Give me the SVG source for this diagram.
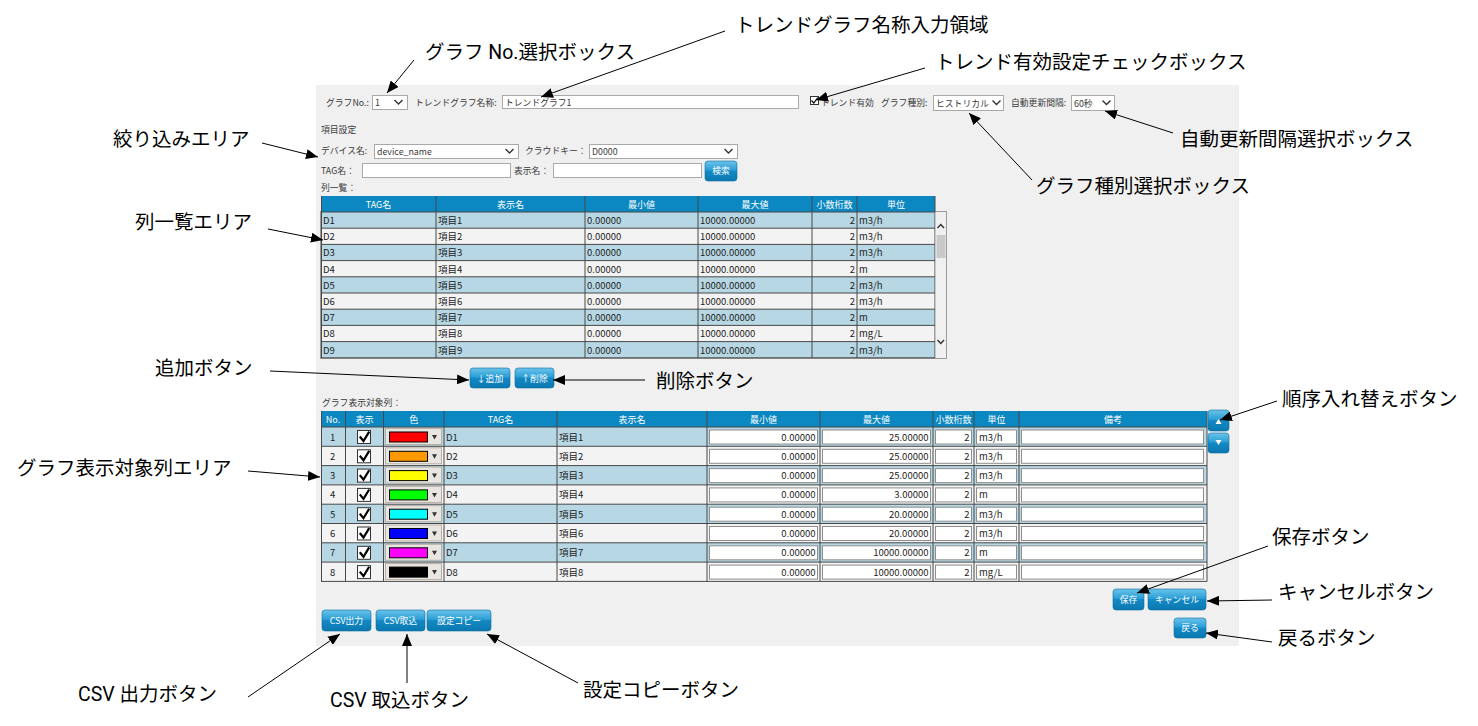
<svg xmlns="http://www.w3.org/2000/svg" xmlns:xlink="http://www.w3.org/1999/xlink" width="1478" height="726" viewBox="0 0 1478 726">
<style>
.ui{font-family:'Noto Sans CJK JP','Liberation Sans',sans-serif;font-size:8.8px;fill:#3a3a3a}
.cell{font-family:'Noto Sans CJK JP','Liberation Sans',sans-serif;font-size:9.5px;fill:#222}
.hd{font-family:'Noto Sans CJK JP','Liberation Sans',sans-serif;font-size:9px;fill:#fff;text-anchor:middle}
.bt{font-family:'Noto Sans CJK JP','Liberation Sans',sans-serif;font-size:8.8px;fill:#fff;text-anchor:middle}
.r{text-anchor:end}
.ann{font-family:Roboto,'Noto Sans CJK JP',sans-serif;font-size:19.5px;font-weight:400;fill:#000}
.box{fill:#fff;stroke:#a9a9a9;stroke-width:1}
.in{fill:#fff;stroke:#8e8e8e;stroke-width:1}
.chev{fill:none;stroke:#333;stroke-width:1.4}
.btn{fill:url(#gb);stroke:#0b6fa0;stroke-width:0.6}
.grid{stroke:#484848;stroke-width:1}
.blue{fill:#b6d7e3}
.wht{fill:#f3f3f3}
.con line{stroke:#000;stroke-width:1;marker-end:url(#ah)}
</style>
<defs>
<linearGradient id="gb" x1="0" y1="0" x2="0" y2="1">
<stop offset="0" stop-color="#6cc3ea"/>
<stop offset="0.45" stop-color="#2a9ed5"/>
<stop offset="0.5" stop-color="#1489c4"/>
<stop offset="1" stop-color="#0a78b0"/>
</linearGradient>
<marker id="ah" viewBox="0 0 12 10" refX="12" refY="5" markerWidth="12" markerHeight="10" markerUnits="userSpaceOnUse" orient="auto">
<path d="M0,0 L12,5 L0,10 z" fill="#000"/>
</marker>
<g id="t2">
<rect x="357.5" y="3.5" width="13" height="13" fill="#fff" stroke="#333"/>
<path d="M359.8 9.5 L363.5 14 L369.2 4.6" fill="none" stroke="#000" stroke-width="2.2"/>
<rect x="385.5" y="1.5" width="56" height="16" fill="#e9e5e1" stroke="#b7afa7"/>
<path d="M432 8 L437 8 L434.5 12.5 z" fill="#333"/>
<rect class="in" x="709.5" y="3" width="108" height="14"/>
<rect class="in" x="822.5" y="3" width="108" height="14"/>
<rect class="in" x="935.5" y="3" width="36" height="14"/>
<rect class="in" x="976.5" y="3" width="40" height="14"/>
<rect class="in" x="1021.5" y="3" width="182" height="14"/>
</g>
</defs>

<rect width="1478" height="726" fill="#fff"/>

<g id="screen">
<rect x="316" y="85" width="923" height="561" fill="#f0f0f0"/>

<g id="topbar">
<text class="ui" x="326" y="105.5">グラフNo.:</text>
<rect class="box" x="372.5" y="95.5" width="35" height="14"/>
<text class="ui" x="375" y="106">1</text>
<polyline class="chev" points="394.5,100 398.5,104 402.5,100"/>
<text class="ui" x="415" y="105.5">トレンドグラフ名称:</text>
<rect class="box" x="502.5" y="95.5" width="296" height="13"/>
<text class="ui" x="505" y="105.5">トレンドグラフ1</text>
<rect x="810.5" y="96.5" width="8" height="8" fill="#fff" stroke="#333"/>
<path d="M811.5 100.5 L813.8 103 L817.8 97.5" fill="none" stroke="#000" stroke-width="1.2"/>
<text class="ui" x="821" y="105.5">トレンド有効</text>
<text class="ui" x="881" y="105.5">グラフ種別:</text>
<rect class="box" x="933.5" y="95.5" width="70" height="15"/>
<text class="ui" x="936" y="106.5">ヒストリカル</text>
<polyline class="chev" points="992.5,100.5 996.5,104.5 1000.5,100.5"/>
<text class="ui" x="1011" y="105.5">自動更新間隔:</text>
<rect class="box" x="1071.5" y="95.5" width="43" height="15"/>
<text class="ui" x="1074" y="106.5">60秒</text>
<polyline class="chev" points="1102.5,100.5 1106.5,104.5 1110.5,100.5"/>
</g>

<g id="filter">
<text class="ui" x="321" y="133">項目設定</text>
<text class="ui" x="321" y="154">デバイス名:</text>
<rect class="box" x="374.5" y="144.5" width="144" height="14"/>
<text class="ui" x="377" y="155">device_name</text>
<polyline class="chev" points="505.5,149 509.5,153 513.5,149"/>
<text class="ui" x="525" y="154">クラウドキー：</text>
<rect class="box" x="589.5" y="144.5" width="148" height="14"/>
<text class="ui" x="592" y="155">D0000</text>
<polyline class="chev" points="724.5,149 728.5,153 732.5,149"/>
<text class="ui" x="321" y="174">TAG名：</text>
<rect class="box" x="362.5" y="163.5" width="148" height="14"/>
<text class="ui" x="514" y="174">表示名：</text>
<rect class="box" x="553.5" y="163.5" width="148" height="14"/>
<rect class="btn" x="705" y="161" width="32" height="20" rx="3"/>
<text class="bt" x="721" y="174">検索</text>
<text class="ui" x="321" y="191">列一覧：</text>
</g>

<g id="columnList">
<rect x="320.5" y="211.5" width="626" height="147" fill="#f3f3f3" stroke="#9a9a9a"/>
<rect x="321" y="196" width="614" height="16" fill="#0b87c1"/>
<text class="hd" x="378.5" y="207.5">TAG名</text>
<text class="hd" x="510.5" y="207.5">表示名</text>
<text class="hd" x="641.5" y="207.5">最小値</text>
<text class="hd" x="755" y="207.5">最大値</text>
<text class="hd" x="834.5" y="207.5">小数桁数</text>
<text class="hd" x="896" y="207.5">単位</text>
<g transform="translate(0,212)"><rect class="blue" x="321" y="0" width="614" height="16.2"/><text class="cell" x="323" y="12">D1</text><text class="cell" x="438" y="12">項目1</text><text class="cell" x="587" y="12">0.00000</text><text class="cell" x="700" y="12">10000.00000</text><text class="cell r" x="855" y="12">2</text><text class="cell" x="859" y="12">m3/h</text></g>
<g transform="translate(0,228.2)"><rect class="wht" x="321" y="0" width="614" height="16.2"/><text class="cell" x="323" y="12">D2</text><text class="cell" x="438" y="12">項目2</text><text class="cell" x="587" y="12">0.00000</text><text class="cell" x="700" y="12">10000.00000</text><text class="cell r" x="855" y="12">2</text><text class="cell" x="859" y="12">m3/h</text></g>
<g transform="translate(0,244.4)"><rect class="blue" x="321" y="0" width="614" height="16.2"/><text class="cell" x="323" y="12">D3</text><text class="cell" x="438" y="12">項目3</text><text class="cell" x="587" y="12">0.00000</text><text class="cell" x="700" y="12">10000.00000</text><text class="cell r" x="855" y="12">2</text><text class="cell" x="859" y="12">m3/h</text></g>
<g transform="translate(0,260.6)"><rect class="wht" x="321" y="0" width="614" height="16.2"/><text class="cell" x="323" y="12">D4</text><text class="cell" x="438" y="12">項目4</text><text class="cell" x="587" y="12">0.00000</text><text class="cell" x="700" y="12">10000.00000</text><text class="cell r" x="855" y="12">2</text><text class="cell" x="859" y="12">m</text></g>
<g transform="translate(0,276.8)"><rect class="blue" x="321" y="0" width="614" height="16.2"/><text class="cell" x="323" y="12">D5</text><text class="cell" x="438" y="12">項目5</text><text class="cell" x="587" y="12">0.00000</text><text class="cell" x="700" y="12">10000.00000</text><text class="cell r" x="855" y="12">2</text><text class="cell" x="859" y="12">m3/h</text></g>
<g transform="translate(0,293)"><rect class="wht" x="321" y="0" width="614" height="16.2"/><text class="cell" x="323" y="12">D6</text><text class="cell" x="438" y="12">項目6</text><text class="cell" x="587" y="12">0.00000</text><text class="cell" x="700" y="12">10000.00000</text><text class="cell r" x="855" y="12">2</text><text class="cell" x="859" y="12">m3/h</text></g>
<g transform="translate(0,309.2)"><rect class="blue" x="321" y="0" width="614" height="16.2"/><text class="cell" x="323" y="12">D7</text><text class="cell" x="438" y="12">項目7</text><text class="cell" x="587" y="12">0.00000</text><text class="cell" x="700" y="12">10000.00000</text><text class="cell r" x="855" y="12">2</text><text class="cell" x="859" y="12">m</text></g>
<g transform="translate(0,325.4)"><rect class="wht" x="321" y="0" width="614" height="16.2"/><text class="cell" x="323" y="12">D8</text><text class="cell" x="438" y="12">項目8</text><text class="cell" x="587" y="12">0.00000</text><text class="cell" x="700" y="12">10000.00000</text><text class="cell r" x="855" y="12">2</text><text class="cell" x="859" y="12">mg/L</text></g>
<g transform="translate(0,341.6)"><rect class="blue" x="321" y="0" width="614" height="16.2"/><text class="cell" x="323" y="12">D9</text><text class="cell" x="438" y="12">項目9</text><text class="cell" x="587" y="12">0.00000</text><text class="cell" x="700" y="12">10000.00000</text><text class="cell r" x="855" y="12">2</text><text class="cell" x="859" y="12">m3/h</text></g>
<g class="grid">
<line x1="321" y1="212" x2="935" y2="212"/>
<line x1="321" y1="228.2" x2="935" y2="228.2"/>
<line x1="321" y1="244.4" x2="935" y2="244.4"/>
<line x1="321" y1="260.6" x2="935" y2="260.6"/>
<line x1="321" y1="276.8" x2="935" y2="276.8"/>
<line x1="321" y1="293" x2="935" y2="293"/>
<line x1="321" y1="309.2" x2="935" y2="309.2"/>
<line x1="321" y1="325.4" x2="935" y2="325.4"/>
<line x1="321" y1="341.6" x2="935" y2="341.6"/>
<line x1="321" y1="357.8" x2="935" y2="357.8"/>
<line x1="321.5" y1="196" x2="321.5" y2="358"/>
<line x1="436" y1="196" x2="436" y2="358"/>
<line x1="585" y1="196" x2="585" y2="358"/>
<line x1="698" y1="196" x2="698" y2="358"/>
<line x1="812" y1="196" x2="812" y2="358"/>
<line x1="857" y1="196" x2="857" y2="358"/>
<line x1="935" y1="196" x2="935" y2="358"/>
</g>
<rect x="935.5" y="212" width="10.5" height="146" fill="#f0f0f0"/>
<polyline class="chev" points="937.5,228 940.8,224.5 944,228" stroke-width="1"/>
<rect x="936.5" y="235" width="9" height="23" fill="#c9c9c9"/>
<polyline class="chev" points="937.5,340 940.8,343.5 944,340" stroke-width="1"/>
</g>

<g id="addDel">
<rect class="btn" x="470" y="368" width="40" height="20" rx="3"/>
<text class="bt" x="490" y="381.5">↓追加</text>
<rect class="btn" x="515" y="368" width="39" height="20" rx="3"/>
<text class="bt" x="534.5" y="381.5">↑削除</text>
</g>

<g id="graphList">
<text class="ui" x="322" y="406">グラフ表示対象列：</text>
<rect x="321" y="411" width="886" height="16" fill="#0b87c1"/>
<text class="hd" x="333" y="422.5">No.</text>
<text class="hd" x="364.5" y="422.5">表示</text>
<text class="hd" x="413.7" y="422.5">色</text>
<text class="hd" x="500.5" y="422.5">TAG名</text>
<text class="hd" x="632" y="422.5">表示名</text>
<text class="hd" x="763.5" y="422.5">最小値</text>
<text class="hd" x="876.5" y="422.5">最大値</text>
<text class="hd" x="953.5" y="422.5">小数桁数</text>
<text class="hd" x="996.5" y="422.5">単位</text>
<text class="hd" x="1113" y="422.5">備考</text>

<g transform="translate(0,427)"><rect class="blue" x="321" y="0" width="886" height="19.3"/><use xlink:href="#t2"/><rect x="389.5" y="5" width="38" height="10" fill="#ff0000" stroke="#000"/><text class="cell" x="330" y="13.5">1</text><text class="cell" x="446" y="13.5">D1</text><text class="cell" x="559" y="13.5">項目1</text><text class="cell r" x="815.5" y="13.5">0.00000</text><text class="cell r" x="928.5" y="13.5">25.00000</text><text class="cell r" x="969.5" y="13.5">2</text><text class="cell" x="979" y="13.5">m3/h</text></g>
<g transform="translate(0,446.3)"><rect class="wht" x="321" y="0" width="886" height="19.3"/><use xlink:href="#t2"/><rect x="389.5" y="5" width="38" height="10" fill="#ff9900" stroke="#000"/><text class="cell" x="330" y="13.5">2</text><text class="cell" x="446" y="13.5">D2</text><text class="cell" x="559" y="13.5">項目2</text><text class="cell r" x="815.5" y="13.5">0.00000</text><text class="cell r" x="928.5" y="13.5">25.00000</text><text class="cell r" x="969.5" y="13.5">2</text><text class="cell" x="979" y="13.5">m3/h</text></g>
<g transform="translate(0,465.6)"><rect class="blue" x="321" y="0" width="886" height="19.3"/><use xlink:href="#t2"/><rect x="389.5" y="5" width="38" height="10" fill="#ffff00" stroke="#000"/><text class="cell" x="330" y="13.5">3</text><text class="cell" x="446" y="13.5">D3</text><text class="cell" x="559" y="13.5">項目3</text><text class="cell r" x="815.5" y="13.5">0.00000</text><text class="cell r" x="928.5" y="13.5">25.00000</text><text class="cell r" x="969.5" y="13.5">2</text><text class="cell" x="979" y="13.5">m3/h</text></g>
<g transform="translate(0,484.9)"><rect class="wht" x="321" y="0" width="886" height="19.3"/><use xlink:href="#t2"/><rect x="389.5" y="5" width="38" height="10" fill="#00ff00" stroke="#000"/><text class="cell" x="330" y="13.5">4</text><text class="cell" x="446" y="13.5">D4</text><text class="cell" x="559" y="13.5">項目4</text><text class="cell r" x="815.5" y="13.5">0.00000</text><text class="cell r" x="928.5" y="13.5">3.00000</text><text class="cell r" x="969.5" y="13.5">2</text><text class="cell" x="979" y="13.5">m</text></g>
<g transform="translate(0,504.2)"><rect class="blue" x="321" y="0" width="886" height="19.3"/><use xlink:href="#t2"/><rect x="389.5" y="5" width="38" height="10" fill="#00ffff" stroke="#000"/><text class="cell" x="330" y="13.5">5</text><text class="cell" x="446" y="13.5">D5</text><text class="cell" x="559" y="13.5">項目5</text><text class="cell r" x="815.5" y="13.5">0.00000</text><text class="cell r" x="928.5" y="13.5">20.00000</text><text class="cell r" x="969.5" y="13.5">2</text><text class="cell" x="979" y="13.5">m3/h</text></g>
<g transform="translate(0,523.5)"><rect class="wht" x="321" y="0" width="886" height="19.3"/><use xlink:href="#t2"/><rect x="389.5" y="5" width="38" height="10" fill="#0000ff" stroke="#000"/><text class="cell" x="330" y="13.5">6</text><text class="cell" x="446" y="13.5">D6</text><text class="cell" x="559" y="13.5">項目6</text><text class="cell r" x="815.5" y="13.5">0.00000</text><text class="cell r" x="928.5" y="13.5">20.00000</text><text class="cell r" x="969.5" y="13.5">2</text><text class="cell" x="979" y="13.5">m3/h</text></g>
<g transform="translate(0,542.8)"><rect class="blue" x="321" y="0" width="886" height="19.3"/><use xlink:href="#t2"/><rect x="389.5" y="5" width="38" height="10" fill="#ff00ff" stroke="#000"/><text class="cell" x="330" y="13.5">7</text><text class="cell" x="446" y="13.5">D7</text><text class="cell" x="559" y="13.5">項目7</text><text class="cell r" x="815.5" y="13.5">0.00000</text><text class="cell r" x="928.5" y="13.5">10000.00000</text><text class="cell r" x="969.5" y="13.5">2</text><text class="cell" x="979" y="13.5">m</text></g>
<g transform="translate(0,562.1)"><rect class="wht" x="321" y="0" width="886" height="19.3"/><use xlink:href="#t2"/><rect x="389.5" y="5" width="38" height="10" fill="#000000" stroke="#000"/><text class="cell" x="330" y="13.5">8</text><text class="cell" x="446" y="13.5">D8</text><text class="cell" x="559" y="13.5">項目8</text><text class="cell r" x="815.5" y="13.5">0.00000</text><text class="cell r" x="928.5" y="13.5">10000.00000</text><text class="cell r" x="969.5" y="13.5">2</text><text class="cell" x="979" y="13.5">mg/L</text></g>
<g class="grid">
<line x1="321" y1="427" x2="1207" y2="427"/>
<line x1="321" y1="446.3" x2="1207" y2="446.3"/>
<line x1="321" y1="465.6" x2="1207" y2="465.6"/>
<line x1="321" y1="484.9" x2="1207" y2="484.9"/>
<line x1="321" y1="504.2" x2="1207" y2="504.2"/>
<line x1="321" y1="523.5" x2="1207" y2="523.5"/>
<line x1="321" y1="542.8" x2="1207" y2="542.8"/>
<line x1="321" y1="562.1" x2="1207" y2="562.1"/>
<line x1="321" y1="581.4" x2="1207" y2="581.4"/>
<line x1="321.5" y1="411" x2="321.5" y2="581.4"/>
<line x1="345.5" y1="411" x2="345.5" y2="581.4"/>
<line x1="383.5" y1="411" x2="383.5" y2="581.4"/>
<line x1="444" y1="411" x2="444" y2="581.4"/>
<line x1="557" y1="411" x2="557" y2="581.4"/>
<line x1="707" y1="411" x2="707" y2="581.4"/>
<line x1="820" y1="411" x2="820" y2="581.4"/>
<line x1="933" y1="411" x2="933" y2="581.4"/>
<line x1="974" y1="411" x2="974" y2="581.4"/>
<line x1="1019" y1="411" x2="1019" y2="581.4"/>
<line x1="1207" y1="411" x2="1207" y2="581.4"/>
</g>
</g>

<g id="orderBtns">
<rect class="btn" x="1208" y="410" width="21" height="21" rx="3"/>
<path d="M1215.5 424 L1221.5 424 L1218.5 419 z" fill="#fff"/>
<rect class="btn" x="1208" y="433" width="21" height="20" rx="3"/>
<path d="M1215.5 440 L1221.5 440 L1218.5 445 z" fill="#fff"/>
</g>

<g id="bottomBtns">
<rect class="btn" x="322" y="610" width="49" height="21" rx="3"/>
<text class="bt" x="346.5" y="623.5">CSV出力</text>
<rect class="btn" x="376" y="610" width="49" height="21" rx="3"/>
<text class="bt" x="400.5" y="623.5">CSV取込</text>
<rect class="btn" x="427" y="610" width="64" height="21" rx="3"/>
<text class="bt" x="459" y="623.5">設定コピー</text>
<rect class="btn" x="1113" y="589" width="31" height="21" rx="3"/>
<text class="bt" x="1128.5" y="602.5">保存</text>
<rect class="btn" x="1148" y="589" width="58" height="21" rx="3"/>
<text class="bt" x="1177" y="602.5">キャンセル</text>
<rect class="btn" x="1174" y="618" width="32" height="20" rx="3"/>
<text class="bt" x="1190" y="631">戻る</text>
</g>
</g>

<g id="lbl-graphNo"><text class="ann" x="425" y="59.4">グラフ No.選択ボックス</text></g>
<g id="lbl-name"><text class="ann" x="735" y="32.4">トレンドグラフ名称入力領域</text></g>
<g id="lbl-check"><text class="ann" x="935" y="69.4">トレンド有効設定チェックボックス</text></g>
<g id="lbl-interval"><text class="ann" x="1180" y="146.4">自動更新間隔選択ボックス</text></g>
<g id="lbl-type"><text class="ann" x="1036" y="193.4">グラフ種別選択ボックス</text></g>
<g id="lbl-filter"><text class="ann" x="113" y="146.4">絞り込みエリア</text></g>
<g id="lbl-colList"><text class="ann" x="135" y="229.4">列一覧エリア</text></g>
<g id="lbl-add"><text class="ann" x="155" y="375.4">追加ボタン</text></g>
<g id="lbl-del"><text class="ann" x="656" y="388.4">削除ボタン</text></g>
<g id="lbl-order"><text class="ann" x="1282" y="406.4">順序入れ替えボタン</text></g>
<g id="lbl-graphList"><text class="ann" x="17" y="475.4">グラフ表示対象列エリア</text></g>
<g id="lbl-save"><text class="ann" x="1272" y="544.4">保存ボタン</text></g>
<g id="lbl-cancel"><text class="ann" x="1278" y="599.4">キャンセルボタン</text></g>
<g id="lbl-back"><text class="ann" x="1278" y="645.4">戻るボタン</text></g>
<g id="lbl-csvOut"><text class="ann" x="78" y="701.4">CSV 出力ボタン</text></g>
<g id="lbl-csvIn"><text class="ann" x="330" y="707.4">CSV 取込ボタン</text></g>
<g id="lbl-copy"><text class="ann" x="583" y="697.4">設定コピーボタン</text></g>

<g id="connectors" class="con">
<line x1="414" y1="60" x2="387" y2="93"/>
<line x1="725" y1="31" x2="541" y2="97"/>
<line x1="925" y1="68" x2="816" y2="100"/>
<line x1="1173" y1="133" x2="1105" y2="111"/>
<line x1="1032" y1="180" x2="969" y2="113"/>
<line x1="262" y1="143" x2="318" y2="157"/>
<line x1="268" y1="229" x2="323" y2="240"/>
<line x1="270" y1="371" x2="469" y2="380"/>
<line x1="645" y1="380" x2="553" y2="380"/>
<line x1="1277" y1="401" x2="1220" y2="420"/>
<line x1="248" y1="471" x2="320" y2="477"/>
<line x1="1268" y1="546" x2="1137" y2="593"/>
<line x1="1272" y1="600" x2="1207" y2="601"/>
<line x1="1272" y1="642" x2="1206" y2="633"/>
<line x1="248" y1="697" x2="340" y2="634"/>
<line x1="407" y1="683" x2="407" y2="634"/>
<line x1="578" y1="683" x2="487" y2="634"/>
</g>
</svg>
